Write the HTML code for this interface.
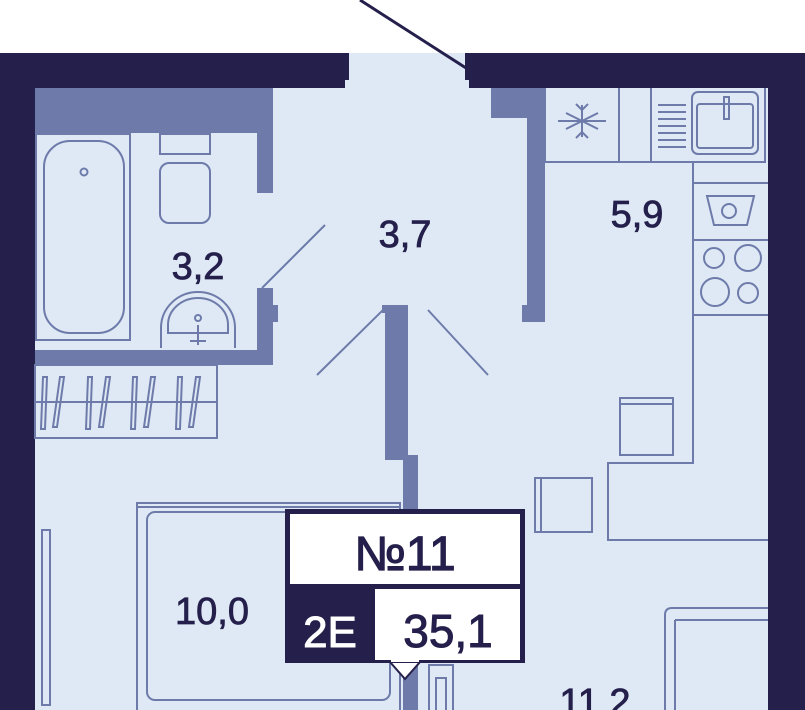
<!DOCTYPE html>
<html><head><meta charset="utf-8"><style>
html,body{margin:0;padding:0;background:#fff;width:805px;height:710px;overflow:hidden}
svg{display:block}
text{font-family:"Liberation Sans",sans-serif}
</style></head><body>
<svg width="805" height="710" viewBox="0 0 805 710" xmlns="http://www.w3.org/2000/svg">
<rect x="0" y="0" width="805" height="710" fill="#fff"/>
<rect x="0" y="53" width="805" height="657" fill="#DEE9F5"/>
<g fill="#241F4B">
<rect x="0" y="53" width="349" height="27"/>
<rect x="0" y="53" width="345" height="35"/>
<rect x="465" y="53" width="340" height="27"/>
<rect x="469" y="53" width="336" height="35"/>
<rect x="0" y="53" width="35" height="657"/>
<rect x="768" y="53" width="37" height="657"/>
</g>
<line x1="360" y1="0" x2="466" y2="68" stroke="#241F4B" stroke-width="3"/>
<g fill="#6E7BAA">
<rect x="35" y="88" width="238" height="45"/>
<rect x="257" y="88" width="16" height="105"/>
<rect x="257" y="288" width="16" height="62"/>
<rect x="273" y="305" width="5" height="17"/>
<rect x="35" y="350" width="238" height="15"/>
<rect x="491" y="88" width="54" height="30"/>
<rect x="527" y="88" width="18" height="234"/>
<rect x="522" y="305" width="23" height="17"/>
<rect x="385" y="305" width="23" height="155"/>
<rect x="382" y="305" width="26" height="8"/>
<rect x="403" y="455" width="15" height="255"/>
</g>
<g fill="none" stroke="#6E7BAA" stroke-width="2">
<rect x="36" y="134" width="94" height="206"/>
<rect x="44" y="141" width="80" height="192" rx="26"/>
<circle cx="84" cy="172" r="3.5"/>
<rect x="160" y="134" width="50" height="20"/>
<rect x="160" y="163" width="50" height="60" rx="9"/>
<path d="M161 348 L161 328 A37 36 0 0 1 235 328 L235 348"/>
<path d="M168 325 A30 27 0 0 1 228 325 L228 333 L168 333 Z"/>
<circle cx="198" cy="318" r="3"/>
<line x1="198" y1="325" x2="198" y2="345"/><line x1="190" y1="341" x2="206" y2="341"/>
<line x1="262" y1="288" x2="325" y2="225"/>
<rect x="35" y="365" width="182" height="73"/>
<line x1="35" y1="402" x2="217" y2="402"/>
<path d="M43 377 l4 0 l-2 52 l-4 0 Z M60 377 l4 0 l-7 50 l-4 0Z M88 377 l4 0 l-2 52 l-4 0 Z M106 377 l4 0 l-7 50 l-4 0Z M133 377 l4 0 l-2 52 l-4 0 Z M151 377 l4 0 l-7 50 l-4 0Z M178 377 l4 0 l-2 52 l-4 0 Z M196 377 l4 0 l-7 50 l-4 0Z"/>
<line x1="383" y1="310" x2="317" y2="375"/>
<line x1="428" y1="310" x2="488" y2="375"/>
<path d="M545 88 L545 162 L765 162 L765 88"/>
<line x1="619" y1="88" x2="619" y2="162"/>
<line x1="651" y1="88" x2="651" y2="162"/>
<rect x="692" y="92" width="66" height="62" rx="6"/>
<rect x="697" y="104" width="56" height="44" rx="3"/>
<rect x="724" y="97" width="5" height="22"/>
<path d="M658 105h28M658 112h28M658 119h28M658 126h28M658 133h28M658 140h28M658 147h28"/>
<path d="M693 162 L693 463 L608 463 L608 540 L768 540"/>
<line x1="693" y1="183" x2="768" y2="183"/>
<line x1="693" y1="240" x2="768" y2="240"/>
<line x1="693" y1="315" x2="768" y2="315"/>
<path d="M707 196 L754 196 L747 225 L714 225 Z"/>
<circle cx="729" cy="211" r="7"/>
<circle cx="714" cy="258" r="10"/><circle cx="748" cy="258" r="13"/>
<circle cx="715" cy="292" r="14"/><circle cx="748" cy="293" r="10"/>
<path d="M582 105 v32 M566 113 l32 16 M566 129 l32 -16 M576 104 l6 6 l6 -6 M576 138 l6 -6 l6 6 M558 121 h48"/>
<rect x="620" y="398" width="53" height="57"/>
<line x1="620" y1="404" x2="673" y2="404"/>
<rect x="535" y="478" width="57" height="54"/>
<line x1="541" y1="478" x2="541" y2="532"/>
<path d="M665 710 L665 615 Q665 608 672 608 L768 608"/>
<line x1="675" y1="620" x2="768" y2="620"/>
<line x1="675" y1="620" x2="675" y2="710"/>
<rect x="137" y="503" width="263" height="220"/>
<rect x="147" y="512" width="243" height="188" rx="8"/>
<line x1="137" y1="507" x2="400" y2="507"/>
<rect x="42" y="530" width="8" height="175"/>
<rect x="429" y="665" width="24" height="50"/>
<rect x="436" y="678" width="10" height="40"/>
</g>
<g fill="#241F4B" stroke="#241F4B" stroke-width="0.8" font-size="38" text-anchor="middle">
<text x="198" y="279">3,2</text>
<text x="405" y="247">3,7</text>
<text x="637" y="227">5,9</text>
<text x="212" y="624">10,0</text>
<text x="595" y="715">11,2</text>
</g>
<rect x="285" y="509" width="240" height="154" fill="#241F4B"/>
<rect x="290" y="514" width="230" height="70" fill="#fff"/>
<rect x="375" y="589" width="145" height="71" fill="#fff"/>
<path d="M390 662 L420 662 L405 679 Z" fill="#fff" stroke="#241F4B" stroke-width="2"/>
<rect x="391" y="656" width="28" height="6" fill="#fff"/>
<text x="405" y="570" font-size="48" text-anchor="middle" fill="#241F4B" stroke="#241F4B" stroke-width="1.2">№11</text>
<text x="330" y="647" font-size="44" text-anchor="middle" fill="#fff" stroke="#fff" stroke-width="1">2E</text>
<text x="448" y="647" font-size="46" text-anchor="middle" fill="#241F4B" stroke="#241F4B" stroke-width="1">35,1</text>
</svg>
</body></html>
